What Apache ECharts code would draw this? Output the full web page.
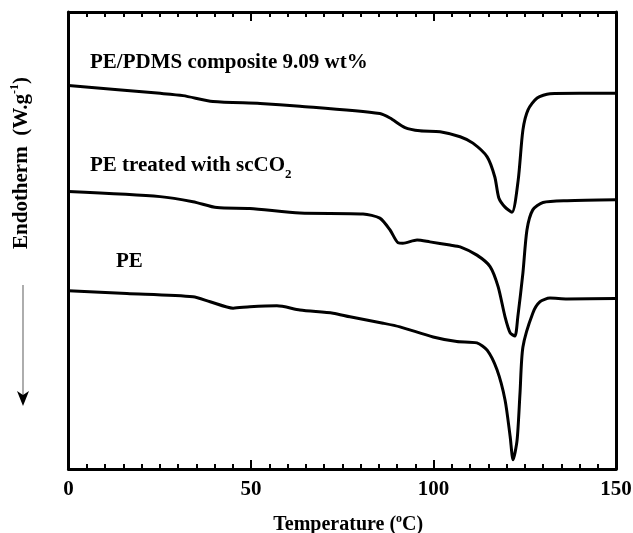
<!DOCTYPE html>
<html>
<head>
<meta charset="utf-8">
<script src="https://cdn.jsdelivr.net/npm/echarts@6/dist/echarts.min.js"></script>
<style>html,body{margin:0;padding:0;background:#fff}#c{width:633px;height:533px}</style>
</head>
<body>
<div id="c"></div>
<script>
// Temperature (°C) and heat flow (arbitrary units, offset curves)
var tPDMS = [0,25.1,31.4,39.6,52.5,63.4,85.3,88.1,92.2,96.3,101.8,107.3,110.8,114.7,116.8,117.9,119.6,121.5,123.2,124.5,125.9,128.4,131.9,140,150];
var yPDMS = [83.9,82.2,81.7,80.4,80.0,79.4,77.8,76.8,74.7,74.0,73.8,72.7,71.3,68.3,63.9,59.3,57.3,56.2,63.2,74.2,78.6,81.2,82.1,82.2,82.2];

var tSC = [0,25.1,34.1,40.7,49.7,63.4,80.7,85.3,88.1,90.3,91.6,95.5,99.0,104.5,107.3,111.9,115.5,117.7,119.6,121.0,122.3,123.1,124.5,125.6,127.2,130.0,136.6,150];
var ySC = [60.7,59.6,58.5,57.2,57.0,56.0,55.8,54.9,52.3,49.5,49.4,50.1,49.7,49.0,48.6,46.8,44.3,39.9,33.3,29.8,29.1,33.3,42.9,52.3,56.7,58.3,58.7,58.9];

var tPE = [0,16.0,34.1,38.8,45.1,49.7,57.1,63.4,72.5,77.1,86.2,90.8,99.9,106.4,111.9,114.7,117.4,119.6,121.0,121.8,122.9,123.7,124.5,127.2,129.2,131.9,136.6,150];
var yPE = [39.0,38.4,37.7,36.6,35.2,35.5,35.7,34.8,34.1,33.3,31.9,31.1,28.9,27.9,27.6,26.0,21.7,15.1,7.1,2.0,6.3,16.6,26.7,34.1,36.6,37.4,37.2,37.3];

var xTicks = [0,50,100,150];
var labels = ['PE/PDMS composite 9.09 wt%','PE treated with scCO{b|2}','PE'];
var yTitle = 'Endotherm  (W.g{s|-1})';
var xTitle = 'Temperature ({s|o}C)';

function pairs(t,y){return t.map(function(v,i){return [v,y[i]];});}

var font = '"Liberation Serif","Times New Roman",serif';
var chart = echarts.init(document.getElementById('c'));
var lineStyle = {color:'#000',width:3,join:'round',cap:'round'};
function ser(t,y){return {type:'line',data:pairs(t,y),showSymbol:false,smooth:0.25,lineStyle:lineStyle,silent:true};}
function xa(pos,showLabel){
  return {
    type:'value',min:xTicks[0],max:xTicks[xTicks.length-1],interval:50,position:pos,
    axisLine:{show:true,onZero:false,lineStyle:{color:'#000',width:3}},
    axisTick:{inside:true,length:9,lineStyle:{color:'#000',width:2}},
    minorTick:{show:true,splitNumber:10,length:5,lineStyle:{color:'#000',width:2}},
    splitLine:{show:false},
    axisLabel:{show:showLabel,color:'#000',fontFamily:font,fontWeight:'bold',fontSize:21,margin:10},
    name:showLabel?xTitle:'',nameLocation:'middle',nameGap:44,
    nameTextStyle:{color:'#000',fontFamily:font,fontWeight:'bold',fontSize:20,lineHeight:24,padding:[0,0,0,12],
      rich:{s:{fontFamily:font,fontWeight:'bold',fontSize:12,verticalAlign:'top',lineHeight:24}}}
  };
}
function ya(pos){
  return {type:'value',min:0,max:100,position:pos,
    axisLine:{show:true,onZero:false,lineStyle:{color:'#000',width:3}},
    axisTick:{show:false},axisLabel:{show:false},splitLine:{show:false}};
}

chart.setOption({
  animation:false,
  grid:{left:68.5,right:17,top:12,bottom:64,containLabel:false,outerBoundsMode:'none'},
  xAxis:[xa('bottom',true),xa('top',false)],
  yAxis:[ya('left'),ya('right')],
  series:[ser(tPDMS,yPDMS),ser(tSC,ySC),ser(tPE,yPE)],
  graphic:[
    {type:'text',x:90,y:63,style:{text:labels[0],fill:'#000',font:'bold 21px '+font,verticalAlign:'middle'}},
    {type:'text',x:90,y:166,style:{text:labels[1],fill:'#000',font:'bold 21px '+font,verticalAlign:'middle',
      rich:{b:{font:'bold 13px '+font,verticalAlign:'bottom',lineHeight:30}}}},
    {type:'text',x:116,y:262,style:{text:labels[2],fill:'#000',font:'bold 21px '+font,verticalAlign:'middle'}},
    {type:'text',x:22,y:163,rotation:Math.PI/2,style:{text:yTitle,fill:'#000',font:'bold 21px '+font,
      align:'center',verticalAlign:'middle',
      rich:{s:{font:'bold 12px '+font,verticalAlign:'top',lineHeight:26}}}},
    {type:'line',shape:{x1:23,y1:285,x2:23,y2:396},style:{stroke:'#777',lineWidth:1.2}},
    {type:'polygon',shape:{points:[[17,391],[23,406],[29,391],[23,395]]},style:{fill:'#000'}}
  ]
});
</script>
</body>
</html>
